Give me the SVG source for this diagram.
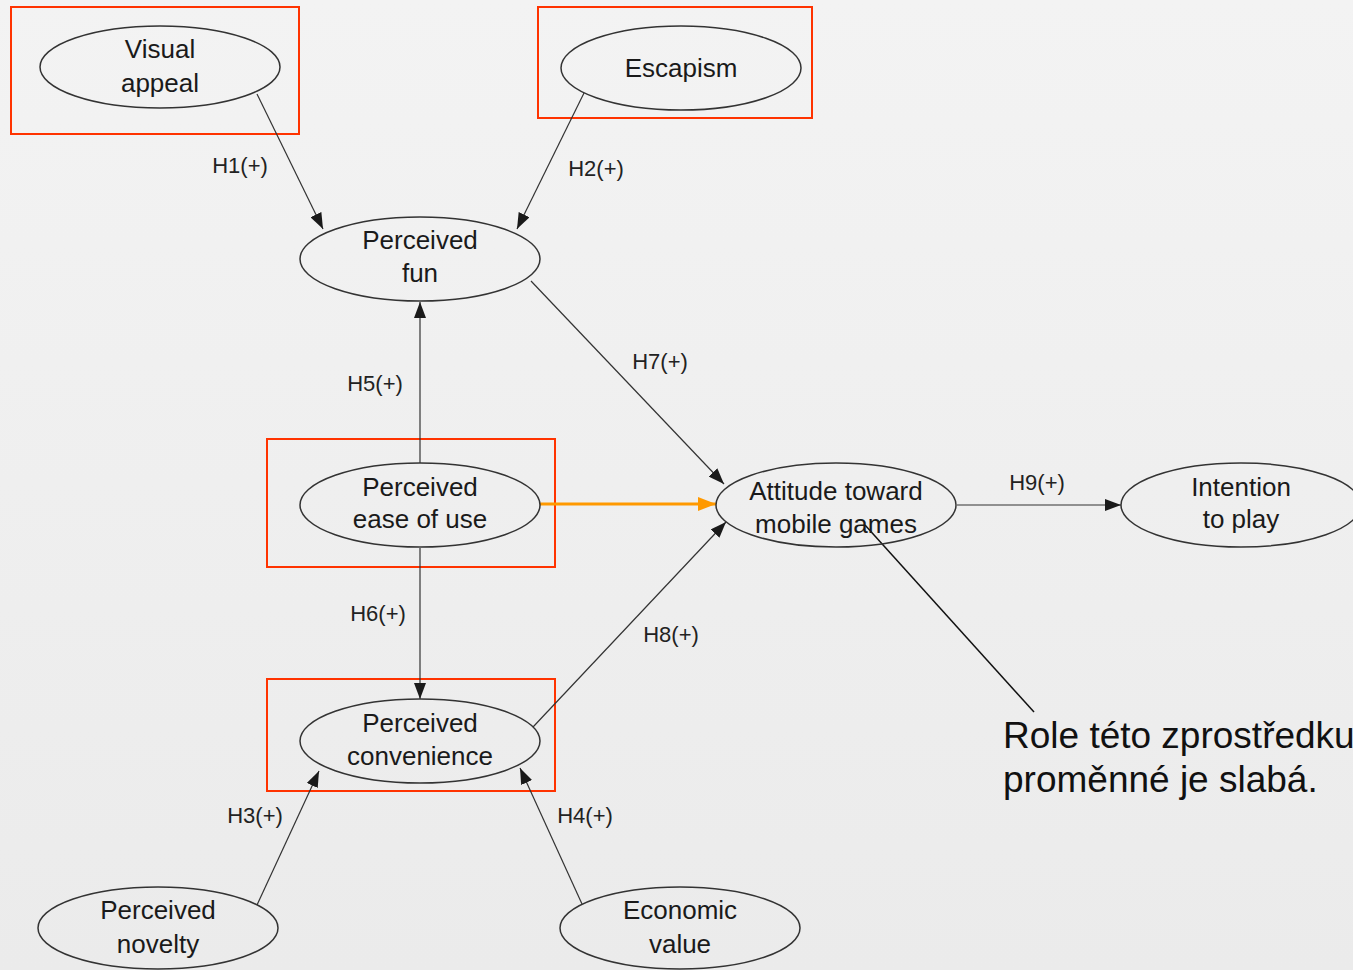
<svg xmlns="http://www.w3.org/2000/svg" width="1353" height="970" viewBox="0 0 1353 970">
  <defs>
    <linearGradient id="bg" x1="0" y1="0" x2="0" y2="1">
      <stop offset="0" stop-color="#f3f3f3"/>
      <stop offset="1" stop-color="#ebebeb"/>
    </linearGradient>
    <marker id="arrow" markerUnits="userSpaceOnUse" markerWidth="16" markerHeight="12" viewBox="0 0 16 12" refX="16" refY="6" orient="auto">
      <path d="M0,0 L16,6 L0,12 Z" fill="#1a1a1a"/>
    </marker>
    <marker id="arrow-orange" markerUnits="userSpaceOnUse" markerWidth="18" markerHeight="14" viewBox="0 0 18 14" refX="18" refY="7" orient="auto">
      <path d="M0,0 L18,7 L0,14 Z" fill="#ff9900"/>
    </marker>
  </defs>
  <style>
    .node ellipse { fill: none; stroke: #333; stroke-width: 1.5; }
    .hl { fill: none; stroke: #ff3300; stroke-width: 2; }
    .lbl { font-family: "Liberation Sans", Arial, sans-serif; font-size: 26px; fill: #1a1a1a; text-anchor: middle; }
    .edge { fill: none; stroke: #333; stroke-width: 1.2; marker-end: url(#arrow); }
    .elbl { font-family: "Liberation Sans", Arial, sans-serif; font-size: 22px; fill: #222; text-anchor: middle; }
    .note { font-family: "Liberation Sans", Arial, sans-serif; font-size: 37px; fill: #111; }
  </style>

  <rect width="1353" height="970" fill="url(#bg)"/>

  <!-- highlight frames -->
  <g id="highlights">
    <rect class="hl" x="11" y="7" width="288" height="127"/>
    <rect class="hl" x="538" y="7" width="274" height="111"/>
    <rect class="hl" x="267" y="439" width="288" height="128"/>
    <rect class="hl" x="267" y="679" width="288" height="112"/>
  </g>

  <!-- connectors -->
  <g id="connectors">
    <line class="edge" x1="257" y1="94" x2="323" y2="229"/>
    <line class="edge" x1="584" y1="93" x2="517" y2="229"/>
    <line class="edge" x1="420" y1="463" x2="420" y2="302"/>
    <line class="edge" x1="531" y1="281" x2="724" y2="484"/>
    <line x1="540" y1="504" x2="716" y2="504" stroke="#ff9900" stroke-width="3" marker-end="url(#arrow-orange)"/>
    <line class="edge" x1="420" y1="548" x2="420" y2="699"/>
    <line class="edge" x1="533" y1="727" x2="726" y2="522"/>
    <line class="edge" x1="957" y1="505" x2="1121" y2="505" stroke-width="2"/>
    <line class="edge" x1="257" y1="905" x2="319" y2="771"/>
    <line class="edge" x1="582" y1="904" x2="520" y2="768"/>
    <line x1="865" y1="525" x2="1034" y2="712" stroke="#111" stroke-width="1.5"/>

    <text class="elbl" x="240" y="173">H1(+)</text>
    <text class="elbl" x="596" y="176">H2(+)</text>
    <text class="elbl" x="375" y="391">H5(+)</text>
    <text class="elbl" x="660" y="369">H7(+)</text>
    <text class="elbl" x="1037" y="490">H9(+)</text>
    <text class="elbl" x="378" y="621">H6(+)</text>
    <text class="elbl" x="671" y="642">H8(+)</text>
    <text class="elbl" x="255" y="823">H3(+)</text>
    <text class="elbl" x="585" y="823">H4(+)</text>
  </g>

  <!-- nodes -->
  <g id="visual-appeal" class="node">
    <ellipse cx="160" cy="67" rx="120" ry="41"/>
    <text class="lbl" x="160" y="58">Visual</text>
    <text class="lbl" x="160" y="92">appeal</text>
  </g>
  <g id="escapism" class="node">
    <ellipse cx="681" cy="68" rx="120" ry="42"/>
    <text class="lbl" x="681" y="77">Escapism</text>
  </g>
  <g id="perceived-fun" class="node">
    <ellipse cx="420" cy="259" rx="120" ry="42"/>
    <text class="lbl" x="420" y="249">Perceived</text>
    <text class="lbl" x="420" y="282">fun</text>
  </g>
  <g id="perceived-ease" class="node">
    <ellipse cx="420" cy="505" rx="120" ry="42"/>
    <text class="lbl" x="420" y="496">Perceived</text>
    <text class="lbl" x="420" y="528">ease of use</text>
  </g>
  <g id="attitude" class="node">
    <ellipse cx="836" cy="505" rx="120" ry="42"/>
    <text class="lbl" x="836" y="500">Attitude toward</text>
    <text class="lbl" x="836" y="533">mobile games</text>
  </g>
  <g id="intention" class="node">
    <ellipse cx="1241" cy="505" rx="120" ry="42"/>
    <text class="lbl" x="1241" y="496">Intention</text>
    <text class="lbl" x="1241" y="528">to play</text>
  </g>
  <g id="perceived-convenience" class="node">
    <ellipse cx="420" cy="741" rx="120" ry="42"/>
    <text class="lbl" x="420" y="732">Perceived</text>
    <text class="lbl" x="420" y="765">convenience</text>
  </g>
  <g id="perceived-novelty" class="node">
    <ellipse cx="158" cy="928" rx="120" ry="41"/>
    <text class="lbl" x="158" y="919">Perceived</text>
    <text class="lbl" x="158" y="953">novelty</text>
  </g>
  <g id="economic-value" class="node">
    <ellipse cx="680" cy="928" rx="120" ry="41"/>
    <text class="lbl" x="680" y="919">Economic</text>
    <text class="lbl" x="680" y="953">value</text>
  </g>

  <!-- callout note -->
  <g id="note">
    <text class="note" x="1003" y="748">Role této zprostředku</text>
    <text class="note" x="1003" y="792">proměnné je slabá.</text>
  </g>
</svg>
